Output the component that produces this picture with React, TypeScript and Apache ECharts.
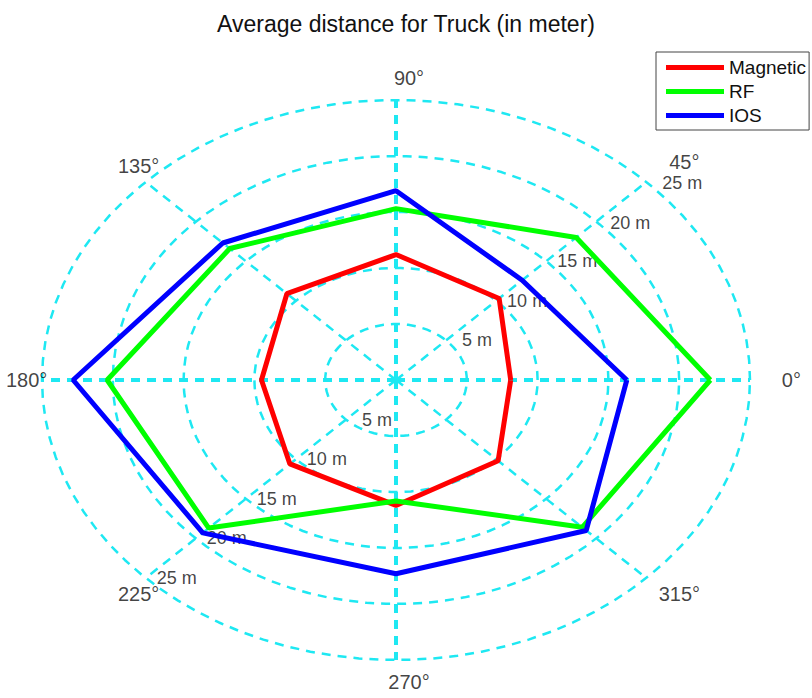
import React, { useEffect, useRef } from "react";
import * as echarts from "echarts";

const angles = [0, 45, 90, 135, 180, 225, 270, 315];
const angleLabels = ["0°", "45°", "90°", "135°", "180°", "225°", "270°", "315°"];
const ringRadii = [5, 10, 15, 20, 25];
const rangeLabels = ["5 m", "10 m", "15 m", "20 m", "25 m"];
const seriesNames = ["Magnetic", "RF", "IOS"];
const magnetic = [8.1, 10.3, 11.2, 10.9, 9.5, 10.6, 11.2, 10.2];
const rf = [22.2, 18.0, 15.3, 16.6, 20.4, 18.7, 10.8, 18.6];
const ios = [16.3, 12.6, 16.9, 17.3, 22.8, 19.3, 17.3, 19.0];
const colors = ["#ff0000", "#00ff00", "#0000ff"];

const RMAX = 25;
const LABEL_R = 27;
const GRID_COLOR = "#1ee8f2";
const FONT = "'Liberation Sans', Arial, sans-serif";
const TEXT_COLOR = "#111";

const toXY = (r: number, deg: number) => {
  const t = (deg * Math.PI) / 180;
  return [r * Math.cos(t), r * Math.sin(t)];
};

export default function App() {
  const ref = useRef<HTMLDivElement>(null);
  useEffect(() => {
    if (!ref.current) return;
    const chart = echarts.init(ref.current, undefined, { renderer: "svg" });

    const series: any[] = [];
    // rings
    ringRadii.forEach((r) => {
      const pts: number[][] = [];
      for (let a = 0; a <= 360; a += 4) pts.push(toXY(r, a));
      series.push({
        type: "line",
        data: pts,
        showSymbol: false,
        silent: true,
        clip: false,
        lineStyle: { color: GRID_COLOR, width: 2.5, type: [9, 7] },
        z: 1,
      });
    });
    // spokes
    angles.forEach((a) => {
      series.push({
        type: "line",
        data: [[0, 0], toXY(RMAX, a)],
        showSymbol: false,
        silent: true,
        clip: false,
        lineStyle: { color: GRID_COLOR, width: a % 90 === 0 ? 4 : 2.5, type: [9, 7] },
        z: 1,
      });
    });
    // angle labels
    series.push({
      type: "scatter",
      symbolSize: 0,
      silent: true,
      clip: false,
      data: angles.map((a, i) => ({
        value: toXY(LABEL_R, a),
        name: angleLabels[i],
        label: a === 45 ? { offset: [18, -4] } : undefined,
      })),
      label: {
        show: true,
        position: "inside",
        offset: [13, 0],
        formatter: (p: any) => p.name,
        color: TEXT_COLOR,
        fontSize: 20,
        lineHeight: 15,
        fontFamily: FONT,
      },
      z: 3,
    });
    // range labels
    [45, 225].forEach((a) => {
      series.push({
        type: "scatter",
        symbolSize: 0,
        silent: true,
        clip: false,
        data: ringRadii.map((r, i) => ({
          value: toXY(r, a),
          name: rangeLabels[i],
          label: a === 45 && r >= 20 ? { offset: [r === 25 ? 36 : 34, 1] } : undefined,
        })),
        label: {
          show: true,
          position: "inside",
          offset: [31, 0],
          formatter: (p: any) => p.name,
          color: TEXT_COLOR,
          fontSize: 18,
          lineHeight: 14,
          fontFamily: FONT,
        },
        z: 3,
      });
    });
    // data
    [magnetic, rf, ios].forEach((vals, i) => {
      const pts = vals.map((v, k) => toXY(v, angles[k]));
      pts.push(pts[0]);
      series.push({
        name: seriesNames[i],
        type: "line",
        data: pts,
        showSymbol: false,
        clip: false,
        color: colors[i],
        lineStyle: { color: colors[i], width: 5 },
        z: 5 + i,
      });
    });

    chart.setOption({
      animation: false,
      backgroundColor: "#ffffff",
      title: {
        text: "Average distance for Truck (in meter)",
        left: "center",
        top: 7,
        textStyle: { fontFamily: FONT, fontSize: 23, fontWeight: "normal", color: TEXT_COLOR },
      },
      legend: {
        data: seriesNames,
        orient: "vertical",
        left: 656,
        top: 52,
        icon: "rect",
        itemWidth: 58,
        itemHeight: 5,
        itemGap: 5,
        padding: [6, 3, 5, 10],
        borderColor: "#444",
        borderWidth: 1,
        backgroundColor: "#fff",
        textStyle: { fontFamily: FONT, fontSize: 19, color: TEXT_COLOR, lineHeight: 18 },
      },
      grid: { left: 42, top: 100, width: 708, height: 560 },
      xAxis: { type: "value", min: -RMAX, max: RMAX, show: false },
      yAxis: { type: "value", min: -RMAX, max: RMAX, show: false },
      series,
    });
    return () => chart.dispose();
  }, []);
  return (
    <div
      ref={ref}
      style={{ position: "fixed", left: 0, top: 0, width: 812, height: 698, background: "#fff" }}
    />
  );
}
